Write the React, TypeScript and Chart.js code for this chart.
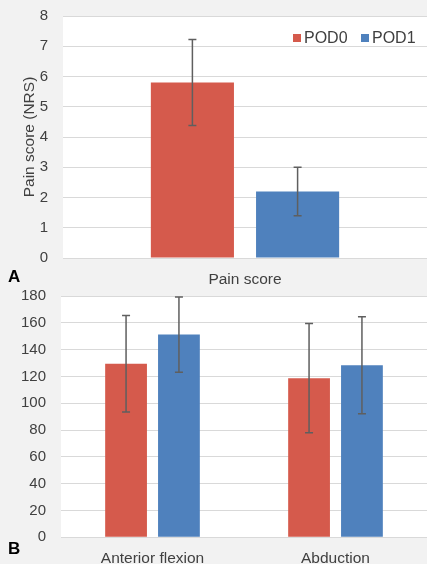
import React, { useEffect, useRef } from "react";
import { Chart, registerables } from "chart.js";

Chart.register(...registerables);

const seriesNames = ["POD0", "POD1"];
const colors = ["#D55A4C", "#4F81BD"];

const painCategories = ["Pain score"];
const painPOD0 = [5.8];
const painPOD1 = [2.2];
const painErrPOD0 = [1.42];
const painErrPOD1 = [0.8];

const romCategories = ["Anterior flexion", "Abduction"];
const romPOD0 = [129.5, 118.7];
const romPOD1 = [151.2, 128.4];
const romErrPOD0 = [36, 40.8];
const romErrPOD1 = [28, 36.2];

const FONT = "'Liberation Sans', Arial, sans-serif";
const TEXT = "#404040";
const GRID = "#d9d9d9";

const errorBarPlugin = {
  id: "errorBars",
  afterDatasetsDraw(chart: any) {
    const ctx = chart.ctx;
    const y = chart.scales.y;
    chart.data.datasets.forEach((ds: any, i: number) => {
      const meta = chart.getDatasetMeta(i);
      meta.data.forEach((bar: any, j: number) => {
        const v = ds.data[j];
        const e = ds.errors[j];
        const top = y.getPixelForValue(v + e);
        const bot = y.getPixelForValue(v - e);
        const x = bar.x;
        ctx.save();
        ctx.strokeStyle = "#5f5f5f";
        ctx.lineWidth = 1.5;
        ctx.beginPath();
        ctx.moveTo(x, top);
        ctx.lineTo(x, bot);
        ctx.moveTo(x - 4, top);
        ctx.lineTo(x + 4, top);
        ctx.moveTo(x - 4, bot);
        ctx.lineTo(x + 4, bot);
        ctx.stroke();
        ctx.restore();
      });
    });
  },
};

const legendPlugin = {
  id: "customLegend",
  afterDraw(chart: any) {
    if (!chart.options.plugins.customLegend?.show) return;
    const ctx = chart.ctx;
    const positions = [293, 361];
    ctx.save();
    ctx.font = `16px ${FONT}`;
    ctx.textBaseline = "middle";
    chart.data.datasets.forEach((ds: any, i: number) => {
      const x = positions[i];
      ctx.fillStyle = ds.backgroundColor;
      ctx.fillRect(x, 34, 8, 8);
      ctx.fillStyle = TEXT;
      ctx.fillText(ds.label, x + 11, 38.5);
    });
    ctx.restore();
  },
};

const whiteAreaPlugin = {
  id: "whiteArea",
  beforeDraw(chart: any) {
    const { ctx, chartArea } = chart;
    ctx.save();
    ctx.fillStyle = "#f2f2f2";
    ctx.fillRect(0, 0, chart.width, chart.height);
    ctx.fillStyle = "#ffffff";
    ctx.fillRect(chartArea.left, chartArea.top, chartArea.right - chartArea.left, chartArea.bottom - chartArea.top);
    ctx.restore();
  },
};

function makeConfig(
  labels: string[],
  d0: number[],
  d1: number[],
  e0: number[],
  e1: number[],
  max: number,
  step: number,
  yWidth: number,
  xHeight: number,
  padTop: number,
  title: string | null,
  legend: boolean
): any {
  return {
    type: "bar",
    data: {
      labels,
      datasets: [
        { label: seriesNames[0], data: d0, errors: e0, backgroundColor: colors[0] },
        { label: seriesNames[1], data: d1, errors: e1, backgroundColor: colors[1] },
      ],
    },
    plugins: [whiteAreaPlugin, errorBarPlugin, legendPlugin],
    options: {
      animation: false,
      responsive: false,
      devicePixelRatio: 1,
      layout: { padding: { top: padTop, left: 0, right: 0, bottom: 0 } },
      datasets: { bar: { categoryPercentage: 0.578, barPercentage: 0.79 } },
      plugins: {
        legend: { display: false },
        tooltip: { enabled: false },
        customLegend: { show: legend },
      },
      scales: {
        x: {
          grid: { display: false, drawTicks: false },
          border: { display: false },
          ticks: { color: TEXT, font: { family: FONT, size: 15.5 }, padding: 12, maxRotation: 0 },
          afterFit(s: any) {
            s.height = xHeight;
            s.paddingLeft = 0;
            s.paddingRight = 0;
          },
        },
        y: {
          min: 0,
          max,
          ticks: { stepSize: step, color: TEXT, font: { family: FONT, size: 15 }, padding: 15 },
          grid: { color: GRID, lineWidth: 1, drawTicks: false },
          border: { display: false },
          title: title
            ? { display: true, text: title, color: TEXT, font: { family: FONT, size: 15.5 }, padding: { top: 20, bottom: 0 } }
            : { display: false },
          afterFit(s: any) {
            s.width = yWidth;
            s.paddingTop = 0;
            s.paddingBottom = 0;
          },
        },
      },
    },
  };
}

function ChartCanvas(props: { cfg: () => any; width: number; height: number; top: number }) {
  const ref = useRef<HTMLCanvasElement | null>(null);
  useEffect(() => {
    const c = new Chart(ref.current as HTMLCanvasElement, props.cfg());
    return () => c.destroy();
  }, []);
  return (
    <canvas
      ref={ref}
      width={props.width}
      height={props.height}
      style={{ position: "absolute", left: 0, top: props.top, width: props.width, height: props.height }}
    />
  );
}

export default function App() {
  const label: React.CSSProperties = {
    position: "absolute",
    left: 8,
    fontFamily: FONT,
    fontWeight: "bold",
    fontSize: 17,
    color: "#000",
    lineHeight: "20px",
  };
  return (
    <div style={{ position: "fixed", left: 0, top: 0, width: 427, height: 564, background: "#f2f2f2", overflow: "hidden" }}>
      <ChartCanvas
        width={427}
        height={287}
        top={0}
        cfg={() =>
          makeConfig(painCategories, painPOD0, painPOD1, painErrPOD0, painErrPOD1, 8, 1, 63, 29, 16, "Pain score (NRS)", true)
        }
      />
      <ChartCanvas
        width={427}
        height={277}
        top={287}
        cfg={() =>
          makeConfig(romCategories, romPOD0, romPOD1, romErrPOD0, romErrPOD1, 180, 20, 61, 26.7, 9, null, false)
        }
      />
      <div style={{ ...label, top: 267 }}>A</div>
      <div style={{ ...label, top: 539 }}>B</div>
    </div>
  );
}
